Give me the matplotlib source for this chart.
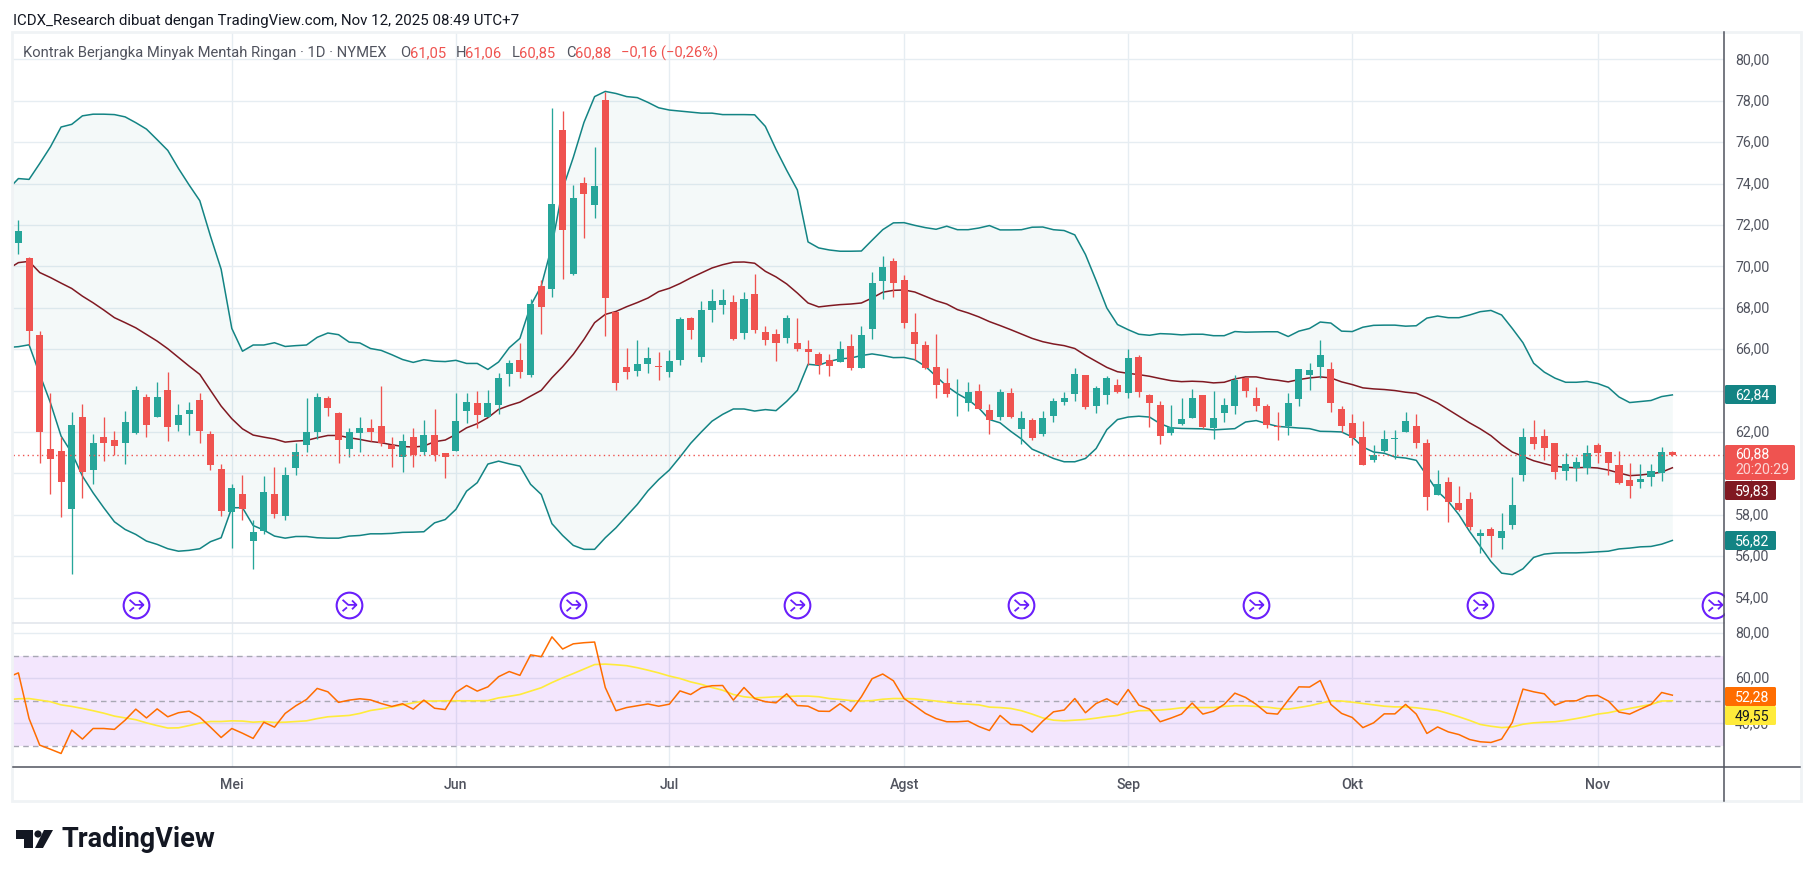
import numpy as np
import matplotlib
matplotlib.use("Agg")
import matplotlib.pyplot as plt
from matplotlib.patches import Rectangle, FancyBboxPatch, Polygon, Circle
from matplotlib.path import Path
from matplotlib.transforms import ScaledTranslation

plt.rcParams["font.family"] = ["Roboto", "DejaVu Sans"]

opens = [
    71.15, 70.40, 66.66, 61.16, 61.06, 58.30, 62.70, 60.14, 61.74, 61.59,
    61.49, 61.93, 63.67, 62.70, 64.01, 62.32, 62.85, 63.52, 61.88, 60.19,
    58.11, 58.98, 56.71, 57.20, 58.98, 57.92, 60.24, 61.35, 61.98, 63.62,
    62.90, 61.20, 61.93, 62.17, 62.27, 61.35, 60.77, 61.74, 61.01, 61.83,
    60.96, 61.06, 62.99, 63.38, 62.70, 63.28, 64.78, 65.46, 64.75, 69.05,
    68.90, 76.58, 69.63, 74.02, 72.96, 78.03, 67.79, 65.13, 64.94, 65.28,
    65.19, 64.91, 65.49, 67.52, 65.64, 67.91, 68.15, 68.30, 66.80, 68.68,
    66.85, 66.75, 66.56, 66.32, 66.03, 65.78, 65.49, 65.40, 66.17, 65.11,
    66.99, 69.31, 70.28, 69.36, 66.85, 66.22, 65.16, 64.38, 63.87, 63.42,
    64.00, 63.08, 62.74, 63.90, 62.16, 62.60, 61.92, 62.79, 63.47, 63.85,
    64.77, 63.27, 63.80, 64.29, 63.90, 65.64, 63.80, 63.32, 61.97, 62.40,
    62.69, 63.80, 62.21, 62.93, 63.27, 64.63, 63.66, 63.27, 62.31, 62.31,
    63.61, 64.77, 65.16, 65.06, 63.13, 62.45, 61.77, 60.66, 61.10, 61.68,
    62.02, 62.31, 61.48, 58.97, 59.60, 58.58, 58.77, 56.98, 57.32, 56.89,
    57.52, 59.90, 61.77, 61.82, 61.48, 60.13, 60.27, 60.27, 61.39, 61.05,
    60.42, 59.69, 59.60, 59.84, 60.03, 61.05,
]
highs = [
    72.25, 70.47, 66.90, 63.90, 61.78, 62.94, 63.33, 61.88, 62.70, 62.07,
    62.99, 64.20, 63.81, 64.39, 64.88, 63.33, 63.43, 63.90, 62.07, 60.43,
    59.51, 59.90, 57.73, 59.85, 60.29, 60.29, 61.45, 63.62, 63.90, 63.72,
    62.94, 62.17, 62.70, 62.65, 64.20, 61.78, 61.88, 62.17, 62.56, 63.09,
    60.96, 63.90, 63.90, 63.96, 64.01, 64.83, 65.46, 66.28, 68.42, 69.34,
    77.65, 77.50, 73.93, 74.31, 75.76, 78.40, 67.79, 66.05, 66.44, 66.10,
    65.86, 65.98, 67.57, 67.57, 68.34, 68.92, 68.92, 68.63, 68.78, 69.65,
    67.14, 66.99, 67.67, 67.52, 66.46, 65.88, 65.78, 66.41, 66.75, 67.14,
    69.75, 70.52, 70.42, 69.60, 67.76, 66.41, 66.75, 65.11, 64.58, 64.43,
    64.33, 63.37, 64.09, 64.14, 63.03, 62.69, 63.03, 63.66, 63.95, 65.11,
    64.77, 64.24, 64.72, 64.58, 66.03, 65.74, 63.85, 63.51, 63.32, 63.66,
    64.09, 63.80, 64.00, 63.66, 64.77, 64.63, 64.19, 63.37, 62.98, 63.90,
    65.06, 65.35, 66.42, 65.40, 63.27, 62.89, 62.55, 61.39, 62.11, 62.11,
    62.94, 62.89, 61.68, 60.18, 59.84, 59.40, 59.11, 57.32, 57.42, 58.10,
    59.84, 62.21, 62.60, 62.16, 61.48, 61.00, 60.81, 61.39, 61.48, 61.05,
    61.10, 60.52, 60.47, 60.47, 61.29, 61.06,
]
lows = [
    70.58, 66.20, 60.50, 58.98, 57.87, 55.14, 58.79, 59.47, 60.62, 60.91,
    60.43, 61.90, 61.78, 62.70, 61.54, 62.03, 61.83, 61.49, 60.14, 57.92,
    56.40, 57.77, 55.37, 57.05, 57.82, 57.77, 59.90, 61.01, 61.64, 62.75,
    60.48, 60.77, 61.01, 61.54, 61.30, 60.29, 60.05, 60.29, 60.87, 60.58,
    59.76, 61.06, 62.41, 62.17, 62.70, 62.85, 64.20, 64.59, 64.67, 66.73,
    68.52, 69.38, 69.58, 71.37, 72.33, 66.63, 64.02, 64.55, 64.70, 64.84,
    64.50, 64.67, 65.25, 66.51, 65.40, 67.33, 67.72, 66.46, 66.51, 66.80,
    66.22, 65.45, 66.32, 65.93, 65.25, 64.82, 64.72, 65.40, 65.01, 65.11,
    66.51, 68.44, 68.54, 67.04, 65.49, 65.06, 63.66, 63.71, 62.79, 63.03,
    63.13, 61.92, 62.60, 62.69, 61.44, 61.63, 61.82, 62.50, 63.32, 63.51,
    63.13, 62.93, 63.37, 63.90, 63.66, 63.71, 62.26, 61.44, 61.87, 62.35,
    62.69, 62.21, 61.68, 62.50, 62.89, 63.71, 63.03, 62.21, 61.63, 61.87,
    63.27, 64.05, 64.63, 62.98, 62.02, 61.39, 60.42, 60.56, 61.05, 60.71,
    62.02, 61.24, 58.24, 58.97, 57.66, 58.19, 57.27, 56.16, 55.97, 56.35,
    57.32, 59.65, 61.19, 60.66, 59.74, 59.69, 59.65, 59.98, 60.52, 59.94,
    59.50, 58.82, 59.31, 59.40, 59.65, 60.85,
]
closes = [
    71.73, 66.90, 61.98, 60.67, 59.58, 62.36, 60.05, 61.49, 61.49, 61.30,
    62.46, 64.01, 62.36, 63.67, 62.22, 62.80, 63.04, 62.03, 60.38, 58.16,
    59.27, 58.26, 57.15, 59.12, 58.02, 59.90, 61.01, 61.98, 63.67, 63.14,
    61.59, 61.98, 62.17, 61.98, 61.49, 61.16, 61.54, 60.87, 61.83, 60.91,
    60.77, 62.51, 63.43, 62.80, 63.38, 64.59, 65.31, 64.92, 68.18, 68.03,
    73.01, 71.75, 73.30, 73.49, 73.88, 68.47, 64.36, 64.89, 65.28, 65.57,
    65.15, 65.45, 67.47, 66.94, 67.91, 68.34, 68.39, 66.51, 68.44, 66.94,
    66.46, 66.32, 67.52, 66.03, 65.88, 65.24, 65.20, 66.03, 65.11, 66.70,
    69.21, 69.99, 69.21, 67.28, 66.27, 65.11, 64.29, 63.85, 63.90, 63.95,
    63.13, 62.60, 63.95, 62.74, 62.69, 61.73, 62.69, 63.51, 63.66, 64.82,
    63.22, 64.14, 64.62, 63.95, 65.59, 63.95, 63.42, 61.82, 62.26, 62.64,
    63.66, 62.26, 62.69, 63.32, 64.53, 64.00, 63.23, 62.35, 62.26, 63.42,
    65.02, 64.97, 65.74, 63.42, 62.31, 61.73, 60.42, 60.90, 61.68, 61.71,
    62.55, 61.48, 58.87, 59.50, 58.63, 58.24, 57.42, 57.13, 56.98, 57.23,
    58.48, 61.77, 61.44, 61.24, 60.08, 60.47, 60.56, 61.00, 61.00, 60.52,
    59.55, 59.40, 59.74, 60.13, 61.05, 60.88,
]

# bands and rsi start one bar before the first candle (cut by the pane edge)
bb_upper = [
    73.7, 74.24, 74.2, 74.97, 75.77, 76.73, 76.86, 77.27, 77.35, 77.35,
    77.33, 77.22, 76.94, 76.63, 76.12, 75.6, 74.73, 73.93, 73.17, 71.46,
    69.86, 67.0, 65.9, 66.2, 66.2, 66.31, 66.13, 66.17, 66.2, 66.57,
    66.78, 66.7, 66.34, 66.3, 66.03, 65.94, 65.73, 65.5, 65.36, 65.49,
    65.42, 65.4, 65.46, 65.31, 65.31, 65.02, 65.38, 66.07, 66.52, 68.1,
    69.05, 71.0, 73.73, 75.26, 76.95, 78.2, 78.45, 78.35, 78.2, 78.15,
    77.92, 77.66, 77.55, 77.5, 77.45, 77.4, 77.4, 77.33, 77.33, 77.33,
    77.32, 76.76, 75.65, 74.64, 73.69, 71.18, 70.89, 70.79, 70.73, 70.73,
    70.74, 71.26, 71.77, 72.1, 72.11, 71.98, 71.87, 71.79, 71.94, 71.77,
    71.77, 71.85, 71.97, 71.76, 71.76, 71.77, 71.89, 71.9, 71.77, 71.73,
    71.52, 70.57, 69.31, 67.99, 67.19, 66.94, 66.72, 66.67, 66.75, 66.73,
    66.69, 66.72, 66.72, 66.65, 66.65, 66.85, 66.82, 66.83, 66.84, 66.84,
    66.61, 66.87, 67.0, 67.31, 67.26, 66.87, 66.85, 67.06, 67.15, 67.16,
    67.16, 67.11, 67.13, 67.5, 67.6, 67.52, 67.52, 67.65, 67.81, 67.87,
    67.65, 67.0, 66.31, 65.32, 64.89, 64.6, 64.4, 64.4, 64.44, 64.34,
    64.15, 63.69, 63.42, 63.47, 63.52, 63.71, 63.79,
]
bb_basis = [
    69.86, 70.18, 70.24, 69.7, 69.46, 69.19, 68.93, 68.56, 68.24, 67.89,
    67.52, 67.28, 67.03, 66.71, 66.39, 66.02, 65.6, 65.18, 64.78, 64.01,
    63.25, 62.64, 62.15, 61.85, 61.75, 61.66, 61.51, 61.56, 61.59, 61.72,
    61.83, 61.83, 61.72, 61.64, 61.54, 61.48, 61.38, 61.3, 61.27, 61.32,
    61.53, 61.61, 61.88, 62.2, 62.4, 62.69, 63.09, 63.28, 63.44, 63.73,
    64.01, 64.62, 65.15, 65.75, 66.47, 67.28, 67.68, 67.82, 68.05, 68.25,
    68.47, 68.78, 68.94, 69.17, 69.44, 69.68, 69.92, 70.08, 70.2, 70.21,
    70.15, 69.76, 69.49, 69.15, 68.71, 68.23, 68.04, 68.1, 68.15, 68.18,
    68.23, 68.47, 68.75, 68.84, 68.86, 68.76, 68.55, 68.34, 68.18, 67.91,
    67.75, 67.56, 67.33, 67.14, 66.94, 66.73, 66.52, 66.36, 66.25, 66.17,
    66.03, 65.7, 65.41, 65.12, 64.91, 64.83, 64.77, 64.69, 64.58, 64.48,
    64.43, 64.45, 64.43, 64.37, 64.4, 64.56, 64.66, 64.66, 64.56, 64.5,
    64.42, 64.53, 64.61, 64.66, 64.61, 64.42, 64.29, 64.13, 64.08, 64.05,
    64.0, 63.92, 63.87, 63.65, 63.4, 63.08, 62.76, 62.44, 62.15, 61.82,
    61.39, 61.03, 60.82, 60.61, 60.47, 60.34, 60.29, 60.27, 60.29, 60.26,
    60.16, 60.02, 59.89, 59.92, 59.98, 60.06, 60.27,
]
bb_lower = [
    66.08, 66.12, 66.21, 64.78, 63.41, 61.8, 60.99, 59.87, 59.06, 58.34,
    57.66, 57.29, 57.05, 56.73, 56.57, 56.36, 56.24, 56.28, 56.36, 56.7,
    56.89, 58.34, 58.34, 57.48, 57.26, 56.97, 56.87, 56.95, 56.95, 56.89,
    56.87, 56.87, 56.97, 57.0, 57.08, 57.08, 57.1, 57.15, 57.16, 57.18,
    57.61, 57.77, 58.26, 59.14, 59.55, 60.45, 60.59, 60.46, 60.35, 59.47,
    58.98, 57.57, 57.0, 56.52, 56.33, 56.33, 56.89, 57.37, 57.94, 58.5,
    59.16, 59.7, 60.16, 60.79, 61.45, 62.0, 62.52, 62.85, 63.11, 63.11,
    63.01, 63.08, 63.03, 63.48, 64.01, 65.27, 65.22, 65.41, 65.53, 65.57,
    65.69, 65.77, 65.69, 65.59, 65.6, 65.49, 65.17, 64.69, 64.21, 63.85,
    63.56, 63.16, 62.6, 62.44, 62.03, 61.66, 61.17, 60.95, 60.72, 60.56,
    60.56, 60.72, 61.2, 62.11, 62.6, 62.72, 62.76, 62.72, 62.4, 62.2,
    62.17, 62.16, 62.15, 62.1, 62.13, 62.16, 62.48, 62.55, 62.4, 62.27,
    62.23, 62.19, 62.16, 62.03, 62.02, 62.0, 61.76, 61.27, 61.03, 60.97,
    60.79, 60.74, 60.63, 59.89, 59.13, 58.65, 58.0, 57.19, 56.47, 55.74,
    55.18, 55.11, 55.39, 55.94, 56.1, 56.15, 56.16, 56.16, 56.18, 56.21,
    56.24, 56.35, 56.39, 56.45, 56.47, 56.58, 56.76,
]
rsi = [
    60.4, 62.4, 42.1, 30.3, 28.5, 26.6, 37.0, 33.0, 37.7, 37.7,
    37.3, 41.4, 46.3, 42.4, 46.4, 42.9, 44.7, 45.4, 42.7, 38.3,
    33.7, 37.7, 35.6, 33.3, 40.5, 38.3, 44.4, 47.8, 50.6, 55.5,
    54.0, 49.3, 50.3, 50.9, 50.4, 48.8, 47.5, 48.7, 46.3, 50.3,
    46.7, 46.1, 53.7, 56.8, 54.3, 56.2, 60.7, 63.0, 61.3, 70.4,
    69.6, 78.4, 73.0, 75.3, 75.8, 76.1, 55.9, 45.6, 47.0, 47.8,
    48.6, 47.6, 48.5, 54.4, 52.8, 55.8, 56.7, 56.8, 50.3, 55.9,
    51.0, 49.6, 49.1, 53.1, 47.9, 47.6, 45.4, 45.3, 48.7, 45.3,
    51.8, 59.8, 61.9, 58.9, 51.0, 47.8, 44.4, 42.1, 40.7, 40.7,
    41.0, 38.6, 36.8, 43.5, 39.5, 39.2, 36.1, 41.0, 45.1, 45.9,
    51.0, 44.7, 48.8, 50.9, 48.2, 55.0, 48.1, 46.3, 40.7, 42.3,
    44.1, 49.0, 44.1, 45.4, 48.4, 53.4, 51.5, 48.4, 44.5, 44.1,
    50.3, 56.2, 56.1, 59.0, 48.4, 44.4, 42.6, 38.1, 40.2, 44.2,
    44.2, 48.4, 44.1, 35.5, 38.4, 36.2, 35.0, 32.8, 31.8, 31.5,
    33.0, 40.4, 55.2, 54.0, 53.1, 48.1, 49.9, 50.0, 52.1, 52.4,
    49.9, 45.0, 44.1, 46.3, 48.4, 53.7, 52.5,
]
rsi_ma = [
    50.5, 50.9, 51.0, 50.3, 49.6, 48.2, 47.5, 46.6, 45.6, 44.5,
    43.2, 42.4, 41.6, 40.2, 39.0, 37.9, 38.0, 39.0, 40.1, 40.8,
    40.8, 41.1, 41.0, 40.5, 40.8, 40.4, 40.5, 40.8, 41.1, 42.1,
    42.9, 43.2, 43.5, 44.4, 45.7, 46.4, 47.3, 48.2, 49.1, 49.9,
    49.9, 50.0, 50.0, 50.0, 50.0, 50.1, 51.3, 52.0, 52.8, 54.3,
    55.8, 58.1, 60.2, 62.1, 64.1, 66.1, 66.3, 66.0, 65.6, 64.7,
    63.6, 62.4, 61.0, 59.9, 58.4, 57.3, 55.9, 54.7, 52.8, 51.8,
    51.3, 51.5, 51.8, 51.9, 52.1, 52.1, 51.8, 51.0, 50.6, 50.1,
    49.9, 50.1, 50.7, 51.0, 51.0, 50.9, 50.4, 49.9, 49.3, 48.8,
    48.5, 48.2, 47.2, 47.0, 46.6, 45.6, 44.1, 42.4, 41.4, 41.1,
    41.4, 41.7, 42.3, 43.0, 43.5, 44.7, 45.6, 45.7, 45.9, 46.3,
    46.9, 47.0, 47.0, 47.0, 47.5, 47.8, 47.8, 47.5, 47.2, 46.6,
    46.3, 47.0, 47.8, 48.9, 50.0, 49.9, 49.4, 48.8, 48.2, 47.6,
    47.3, 47.3, 46.9, 46.3, 45.7, 44.4, 42.9, 41.3, 39.5, 38.7,
    38.1, 38.4, 39.6, 40.2, 40.5, 40.7, 41.3, 42.1, 43.0, 44.1,
    44.7, 45.7, 46.6, 47.5, 48.4, 49.9, 50.0,
]

month_labels = ["Mei", "Jun", "Jul", "Agst", "Sep", "Okt", "Nov"]
month_bars = [20, 41, 61, 83, 104, 125, 148]
event_bars = [11, 31, 52, 73, 94, 116, 137, 159]
price_ticks = [80, 78, 76, 74, 72, 70, 68, 66, 64, 62, 60, 58, 56, 54]
rsi_ticks = [80, 60, 40]
rsi_levels = [70, 50, 30]
last_price = 60.88
event_level = 53.64

W, H = 1814, 878
UP, DOWN = "#26a69a", "#ef5350"
TEAL, MAROON = "#138484", "#801922"
GRID = "#e6edf2"
TEXT = "#50535e"


def pane(left, top, right, bottom):
    return fig.add_axes([left / W, 1 - bottom / H, (right - left) / W, (bottom - top) / H])


def comma(v):
    return f"{v:.2f}".replace(".", ",")


fig = plt.figure(figsize=(W / 100, H / 100), dpi=100, facecolor="white")
ax = pane(13, 33, 1724, 623)
ax_rsi = pane(13, 623, 1724, 768)

bars = np.arange(len(closes))
line_x = np.arange(len(bb_upper)) - 1

for a in (ax, ax_rsi):
    a.set_xlim(-0.506, 159.84)
    for s in a.spines.values():
        s.set_visible(False)
    a.yaxis.tick_right()
    a.tick_params(axis="y", length=0, pad=8, labelsize=10.2, labelcolor=TEXT)
    for m in month_bars:
        a.axvline(m, color=GRID, lw=1, zorder=0)
ax.set_xticks([])
ax.set_ylim(52.82, 81.32)
ax.set_yticks(price_ticks)
ax.set_yticklabels([comma(p) for p in price_ticks])
for p in price_ticks:
    ax.axhline(p, color=GRID, lw=1, zorder=0)

# bollinger
ax.fill_between(line_x, bb_lower, bb_upper, color="#138484", alpha=0.045, lw=0, zorder=1)
ax.plot(line_x, bb_upper, color=TEAL, lw=1.1, zorder=2)
ax.plot(line_x, bb_lower, color=TEAL, lw=1.1, zorder=2)
ax.plot(line_x, bb_basis, color=MAROON, lw=1.1, zorder=2)

# candles
o, h, l, c = map(np.array, (opens, highs, lows, closes))
colors = np.where(c >= o, UP, DOWN)
ax.vlines(bars, l, h, colors=colors, lw=0.95, zorder=3)
ax.bar(bars, np.abs(c - o), bottom=np.minimum(o, c), width=0.66, color=colors, lw=0, zorder=4)
ax.axhline(last_price, color=DOWN, lw=1, ls=(0, (1, 2.4)), zorder=5)

# event icons
arrow = Path(
    [(-0.55, 0.45), (-0.1, 0.05), (0.55, 0.05), (0.2, 0.4), (0.55, 0.05), (0.2, -0.3), (-0.55, -0.45), (-0.2, -0.15)],
    [Path.MOVETO, Path.LINETO, Path.LINETO, Path.MOVETO, Path.LINETO, Path.LINETO, Path.MOVETO, Path.LINETO],
)
ev_y = [event_level] * len(event_bars)
ax.plot(event_bars, ev_y, ls="none", marker="o", ms=18.5, mfc="white", mec="#6a1ffb", mew=1.5, zorder=6)
ax.plot(event_bars, ev_y, ls="none", marker=arrow, ms=10, mfc="none", mec="#6a1ffb", mew=1.3, zorder=7)

# rsi pane
ax_rsi.set_ylim(20.6, 85)
ax_rsi.set_yticks(rsi_ticks)
ax_rsi.set_yticklabels([comma(p) for p in rsi_ticks])
ax_rsi.set_xticks(month_bars)
ax_rsi.set_xticklabels(month_labels)
ax_rsi.tick_params(axis="x", length=0, pad=7, labelsize=10.2, labelcolor=TEXT)
for lab in ax_rsi.get_xticklabels():
    lab.set_fontweight("medium")
for p in rsi_ticks:
    ax_rsi.axhline(p, color=GRID, lw=1, zorder=0)
ax_rsi.axhspan(30, 70, color="#8e0bf0", alpha=0.1, lw=0, zorder=1)
for p in rsi_levels:
    ax_rsi.axhline(p, color="#a8a8b4", lw=1, ls=(0, (4, 3)), zorder=2)
ax_rsi.plot(line_x, rsi_ma, color="#ffeb3b", lw=1.2, zorder=3)
ax_rsi.plot(line_x, rsi, color="#ff6d00", lw=1.1, zorder=4)

# price labels sit a little above their grid lines
nudge = ScaledTranslation(0, 2 / 100, fig.dpi_scale_trans)
for a in (ax, ax_rsi):
    for lab in a.get_yticklabels():
        lab.set_transform(lab.get_transform() + nudge)

# overlay in pixel coordinates for frame, tags and header
ov = fig.add_axes([0, 0, 1, 1], facecolor="none")
ov.set_xlim(0, W)
ov.set_ylim(H, 0)
ov.axis("off")
ov.add_patch(Rectangle((12, 33), 1789, 769, fill=False, ec="#f0f3f5", lw=2))
ov.plot([13, 1724], [623.5, 623.5], color="#e3e6ec", lw=1.2)
ov.plot([13, 1800], [768, 768], color=TEXT, lw=1.1)
ov.plot([1724, 1724], [33, 802], color=TEXT, lw=1.1)


def tag(y0, y1, x1, color, lines):
    ov.add_patch(FancyBboxPatch((1725, y0), x1 - 1725, y1 - y0, boxstyle="round,pad=0,rounding_size=1.5",
                                fc=color, ec="none", zorder=10))
    for txt, y, tc in lines:
        ov.text(1735, y, txt, color=tc, fontsize=10.2, va="center", ha="left", zorder=11)


tag(386, 405, 1776, TEAL, [("62,84", 395, "white")])
tag(446, 481, 1795, DOWN, [("60,88", 454, "white"), ("20:20:29", 470, "#fbd5d5")])
tag(482, 501, 1776, MAROON, [("59,83", 491, "white")])
tag(532, 551, 1776, TEAL, [("56,82", 541, "white")])
tag(688, 707, 1776, "#ff6d00", [("52,28", 697, "white")])
tag(707, 726, 1776, "#ffeb3b", [("49,55", 716, "#131722")])

ov.text(13, 20.5, "ICDX_Research dibuat dengan TradingView.com, Nov 12, 2025 08:49 UTC+7",
        fontsize=10.8, color="#131722", va="center")
ov.text(23, 53, "Kontrak Berjangka Minyak Mentah Ringan · 1D · NYMEX", fontsize=10.6, color=TEXT, va="center")
ohlc_x = [(400, "O", 410, "61,05"), (456, "H", 465, "61,06"), (512, "L", 519, "60,85"), (566, "C", 575, "60,88")]
for x0, letter, x1, val in ohlc_x:
    ov.text(x0, 53, letter, fontsize=10.6, color=TEXT, va="center")
    ov.text(x1, 53, val, fontsize=10.6, color=DOWN, va="center")
ov.text(621, 53, "−0,16 (−0,26%)", fontsize=10.6, color=DOWN, va="center")

# logo
ov.add_patch(Polygon([(15.5, 831), (32.5, 831), (32.5, 849), (24, 849), (24, 840), (15.5, 840)], fc="#131722", ec="none"))
ov.add_patch(Circle((38, 835), 3.6, fc="#131722", ec="none"))
ov.add_patch(Polygon([(44, 831), (53, 831), (43, 849), (35, 849)], fc="#131722", ec="none"))
ov.text(62, 840, "TradingView", fontsize=19.5, fontweight="bold", color="#131722", va="center")

fig.savefig("out.png", dpi=100, facecolor="white")
